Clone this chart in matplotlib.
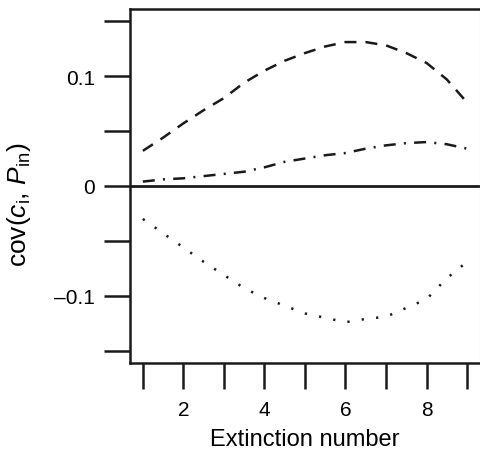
import matplotlib
matplotlib.use("Agg")
import matplotlib.pyplot as plt

plt.rcParams['font.family'] = ['Liberation Sans', 'DejaVu Sans']
plt.rcParams['mathtext.fontset'] = 'custom'
plt.rcParams['mathtext.rm'] = 'Liberation Sans'
plt.rcParams['mathtext.it'] = 'Liberation Sans:italic'

# extinction number, read at half steps
ext = [1, 1.5, 2, 2.5, 3, 3.5, 4, 4.5, 5, 5.5, 6, 6.5, 7, 7.5, 8, 8.5, 9]
cov_dashed = [0.032, 0.044, 0.057, 0.069, 0.080, 0.094, 0.105, 0.114, 0.121,
              0.127, 0.131, 0.131, 0.128, 0.121, 0.112, 0.097, 0.076]
cov_dashdot = [0.004, 0.006, 0.007, 0.009, 0.011, 0.013, 0.017, 0.022, 0.025,
               0.028, 0.030, 0.034, 0.037, 0.039, 0.040, 0.038, 0.034]
cov_dotted = [-0.030, -0.043, -0.056, -0.069, -0.081, -0.093, -0.102, -0.109, -0.116,
              -0.120, -0.124, -0.121, -0.119, -0.111, -0.103, -0.084, -0.069]

xticks = [1, 2, 3, 4, 5, 6, 7, 8, 9]
xlabels = ['', '2', '', '4', '', '6', '', '8', '']
yticks = [-0.15, -0.1, -0.05, 0, 0.05, 0.1, 0.15]
ylabels = ['', '\u20130.1', '', '0', '', '0.1', '']

fig = plt.figure(figsize=(4.81, 4.60), dpi=100)
ax = fig.add_axes([0.270, 0.209, 0.728, 0.769])

lw = 1.8
ax.plot(ext, cov_dashed, color='#1a1a1a', lw=lw, linestyle=(0, (4.8, 3.6)))
ax.plot(ext, cov_dashdot, color='#1a1a1a', lw=lw, linestyle=(0, (4.8, 3.3, 0.8, 3.3)))
ax.plot(ext, cov_dotted, color='#1a1a1a', lw=lw, linestyle=(0, (0.9, 4.9)))
ax.axhline(0, color='#1a1a1a', lw=2.0)

ax.set_xlim(0.68, 9.32)
ax.set_ylim(-0.161, 0.161)
ax.set_xticks(xticks)
ax.set_xticklabels(xlabels)
ax.set_yticks(yticks)
ax.set_yticklabels(ylabels)

for s in ['left', 'bottom', 'top']:
    ax.spines[s].set_linewidth(1.8)
    ax.spines[s].set_color('#1a1a1a')
ax.spines['right'].set_linewidth(0.8)
ax.spines['right'].set_color('#bbbbbb')

ax.tick_params(axis='y', direction='out', length=19, width=1.8, pad=6,
               labelsize=15, color='#1a1a1a')
ax.tick_params(axis='x', direction='out', length=19, width=1.8, pad=8,
               labelsize=15, color='#1a1a1a')

ax.set_xlabel('Extinction number', fontsize=17, labelpad=6)
ax.set_ylabel(r'cov($c_{\mathrm{i}}$, $P_{\mathrm{in}}$)', fontsize=19)
ax.yaxis.set_label_coords(-0.277, 0.45)

fig.savefig('out.png', dpi=100)
